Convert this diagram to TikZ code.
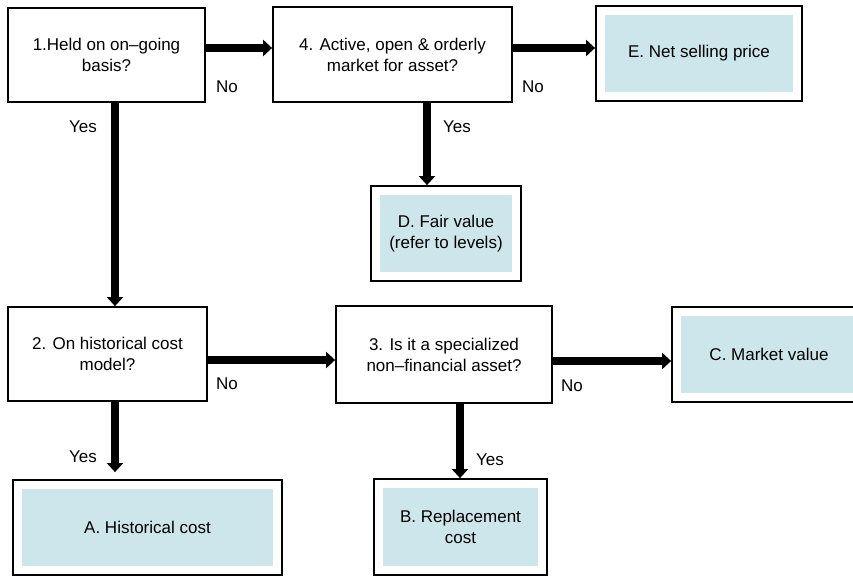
\documentclass[tikz,border=0pt]{standalone}
\usepackage{fontspec}
\setmainfont{Liberation Sans}
\usetikzlibrary{arrows.meta}
\definecolor{boxfill}{RGB}{205,230,235}
\tikzset{
  question/.style={draw,line width=1.8pt,align=center,inner sep=0pt},
  result/.style={draw,line width=1.8pt,align=center,inner sep=0pt,
    path picture={\fill[boxfill] ([xshift=9pt,yshift=-9pt]path picture bounding box.north west)
      rectangle ([xshift=-9pt,yshift=9pt]path picture bounding box.south east);}},
  flow/.style={line width=7.5pt,-{Triangle[width=16pt,length=9pt]}},
  answer/.style={inner sep=0pt}
}

\begin{document}
\begin{tikzpicture}[x=1pt,y=-1pt,font=\fontsize{17}{21}\selectfont]
\useasboundingbox (0,0) rectangle (853,576);

\node[question,minimum width=197pt,minimum height=94pt] (q1) at (106.5,55) {1.Held on on--going\\basis?};
\node[question,minimum width=239pt,minimum height=95pt] (q4) at (392.5,54.5) {4. Active, open \& orderly\\market for asset?};
\node[result,minimum width=206pt,minimum height=95pt] (resE) at (699,53.5) {E. Net selling price};
\node[result,minimum width=150pt,minimum height=95pt] (resD) at (446,233.5) {D. Fair value\\(refer to levels)};

\node[question,minimum width=199pt,minimum height=94pt] (q2) at (107.5,354) {2. On historical cost\\model?};
\node[question,minimum width=216pt,minimum height=97pt] (q3) at (444,354.5) {3. Is it a specialized\\non--financial asset?};
\node[result,minimum width=194pt,minimum height=95pt] (resC) at (769,354.5) {C. Market value};
\node[result,minimum width=173pt,minimum height=96pt] (resB) at (460.5,527) {B. Replacement\\cost};
\node[result,minimum width=269pt,minimum height=95pt] (resA) at (147.5,527.5) {A. Historical cost};

% Arrows between the questions and outcomes
\draw[flow] ([yshift=7pt]q1.east) -- ([yshift=7pt]q1.east -| q4.west);
\draw[flow] ([yshift=6.5pt]q4.east) -- ([yshift=6.5pt]q4.east -| resE.west);
\draw[flow] ([xshift=8.5pt]q1.south) -- ([xshift=8.5pt]q1.south |- q2.north);
\draw[flow] ([xshift=34.5pt]q4.south) -- ([xshift=34.5pt]q4.south |- resD.north);
\draw[flow] ([yshift=-6pt]q2.east) -- ([yshift=-6pt]q2.east -| q3.west);
\draw[flow] ([yshift=-6.5pt]q3.east) -- ([yshift=-6.5pt]q3.east -| resC.west);
\draw[flow,shorten >=7pt] ([xshift=7.5pt]q2.south) -- ([xshift=7.5pt]q2.south |- resA.north);
\draw[flow] ([xshift=16pt]q3.south) -- ([xshift=16pt]q3.south |- resB.north);

\node[answer] (no1) at (227,87) {No};
\node[answer] (no4) at (533,87) {No};
\node[answer] (no2) at (227,384) {No};
\node[answer] (no3) at (572,386) {No};
\node[answer] (yes1) at (83,127) {Yes};
\node[answer] (yes4) at (457,127) {Yes};
\node[answer] (yes2) at (83,457) {Yes};
\node[answer] (yes3) at (490,460) {Yes};
\end{tikzpicture}
\end{document}
